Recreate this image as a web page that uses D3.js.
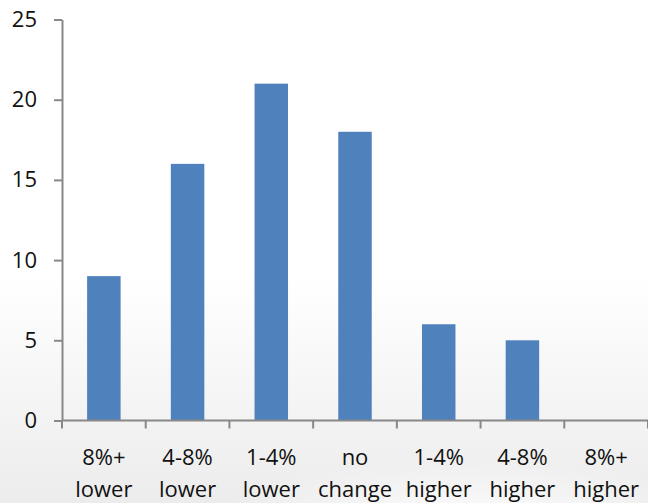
<!DOCTYPE html>
<html>
<head>
<meta charset="utf-8">
<script src="https://cdn.jsdelivr.net/npm/d3@7"></script>
<style>
  html, body { margin: 0; padding: 0; background: #fff; }
  svg { display: block; }
  text { font-family: "Open Sans", "Liberation Sans", sans-serif; fill: #111; }
</style>
</head>
<body>
<svg id="chart" width="648" height="503"></svg>
<script>
// Category labels (two lines each), counts and y-axis ticks
const categoryTop = ["8%+", "4-8%", "1-4%", "no", "1-4%", "4-8%", "8%+"];
const categoryBottom = ["lower", "lower", "lower", "change", "higher", "higher", "higher"];
const counts = [9, 16, 21, 18, 6, 5, 0];
const yTicks = [0, 5, 10, 15, 20, 25];

const W = 648, H = 503;
const margin = { left: 62, right: 0, top: 19.5, bottom: 82.5 };
const svg = d3.select("#chart");

// soft grey shading toward the bottom of the canvas
const defs = svg.append("defs");
const bg = defs.append("linearGradient").attr("id", "bg").attr("x1", 0).attr("y1", 0).attr("x2", 0).attr("y2", 1);
bg.append("stop").attr("offset", "0.55").attr("stop-color", "#ffffff");
bg.append("stop").attr("offset", "1").attr("stop-color", "#ececec");
svg.append("rect").attr("width", W).attr("height", H).attr("fill", "url(#bg)");
const sw = defs.append("radialGradient").attr("id", "sw").attr("cx", 0.5).attr("cy", 0.5).attr("r", 0.5);
sw.append("stop").attr("offset", "0").attr("stop-color", "#ffffff").attr("stop-opacity", 0.9);
sw.append("stop").attr("offset", "1").attr("stop-color", "#ffffff").attr("stop-opacity", 0);
svg.append("ellipse").attr("cx", 470).attr("cy", 520).attr("rx", 260).attr("ry", 60).attr("fill", "url(#sw)");

const x = d3.scaleBand()
  .domain(d3.range(categoryTop.length))
  .range([margin.left, W - margin.right])
  .paddingInner(0.6)
  .paddingOuter(0.3);

const y = d3.scaleLinear()
  .domain([0, 25])
  .range([H - margin.bottom, margin.top]);

// bars
svg.append("g").selectAll("rect")
  .data(counts)
  .join("rect")
  .attr("x", (d, i) => x(i))
  .attr("y", d => y(d))
  .attr("width", x.bandwidth())
  .attr("height", d => y(0) - y(d))
  .attr("fill", "#4f81bd");

// y axis
const yAxis = svg.append("g")
  .attr("transform", `translate(${margin.left},0)`)
  .call(d3.axisLeft(y).tickValues(yTicks).tickSize(8).tickSizeOuter(0).tickPadding(17));
yAxis.select(".domain").attr("stroke", "#888").attr("stroke-width", 2);
yAxis.selectAll(".tick line").attr("stroke", "#888").attr("stroke-width", 2);
yAxis.selectAll(".tick text").attr("font-size", 22).attr("fill", "#111")
  .style("font-family", '"Open Sans", "Liberation Sans", sans-serif');

// x axis: boundaries between categories carry the tick marks
const step = x.step();
const xStart = margin.left;
const boundaries = d3.range(categoryTop.length + 1).map(i => xStart + i * step);
const xAxisG = svg.append("g");
xAxisG.append("line")
  .attr("x1", margin.left).attr("x2", W)
  .attr("y1", y(0)).attr("y2", y(0))
  .attr("stroke", "#888").attr("stroke-width", 2);
xAxisG.selectAll("line.tk")
  .data(boundaries)
  .join("line")
  .attr("class", "tk")
  .attr("x1", d => d).attr("x2", d => d)
  .attr("y1", y(0)).attr("y2", y(0) + 8)
  .attr("stroke", "#888").attr("stroke-width", 2);

const labels = svg.append("g").attr("font-size", 22).attr("text-anchor", "middle");
labels.selectAll("text.l1")
  .data(categoryTop)
  .join("text")
  .attr("class", "l1")
  .attr("x", (d, i) => x(i) + x.bandwidth() / 2)
  .attr("y", 465)
  .text(d => d);
labels.selectAll("text.l2")
  .data(categoryBottom)
  .join("text")
  .attr("class", "l2")
  .attr("x", (d, i) => x(i) + x.bandwidth() / 2)
  .attr("y", 496.5)
  .text(d => d);
</script>
</body>
</html>
